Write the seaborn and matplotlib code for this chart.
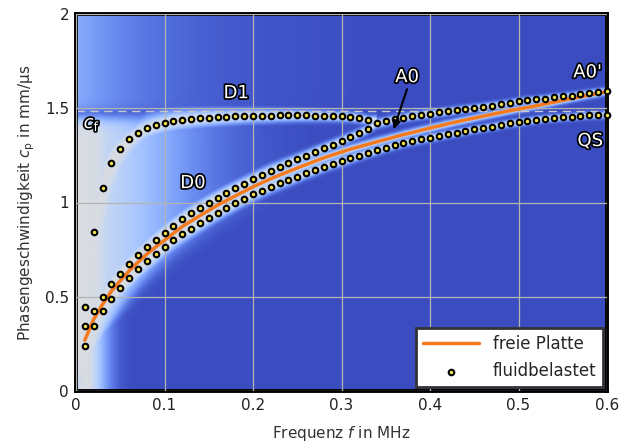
import numpy as np
import pandas as pd
import matplotlib
matplotlib.use("Agg")
import matplotlib.pyplot as plt
import matplotlib.patheffects as pe
import seaborn as sns

# Frequenzen der berechneten Punkte (MHz)
f_pts = [0.01, 0.02, 0.03, 0.04, 0.05, 0.06, 0.07, 0.08, 0.09, 0.10,
         0.11, 0.12, 0.13, 0.14, 0.15, 0.16, 0.17, 0.18, 0.19, 0.20,
         0.21, 0.22, 0.23, 0.24, 0.25, 0.26, 0.27, 0.28, 0.29, 0.30,
         0.31, 0.32, 0.33, 0.34, 0.35, 0.36, 0.37, 0.38, 0.39, 0.40,
         0.41, 0.42, 0.43, 0.44, 0.45, 0.46, 0.47, 0.48, 0.49, 0.50,
         0.51, 0.52, 0.53, 0.54, 0.55, 0.56, 0.57, 0.58, 0.59, 0.60]

# D1 (fluidbelastet), 0.01 ... 0.33 MHz
c_d1 = [0.447, 0.845, 1.075, 1.208, 1.285, 1.335, 1.370, 1.394, 1.410, 1.422,
        1.432, 1.438, 1.443, 1.447, 1.450, 1.453, 1.455, 1.457, 1.459, 1.460,
        1.460, 1.461, 1.462, 1.462, 1.462, 1.462, 1.461, 1.460, 1.459, 1.457,
        1.455, 1.448, 1.438]

# D0 oben -> A0'
c_a0s = [0.347, 0.424, 0.497, 0.566, 0.622, 0.674, 0.720, 0.762, 0.800, 0.840,
         0.875, 0.911, 0.943, 0.971, 0.999, 1.026, 1.052, 1.075, 1.100, 1.123,
         1.148, 1.169, 1.190, 1.209, 1.229, 1.248, 1.268, 1.287, 1.306, 1.326,
         1.346, 1.367, 1.390, 1.420, 1.430, 1.441, 1.450, 1.459, 1.464, 1.471,
         1.478, 1.483, 1.490, 1.496, 1.501, 1.508, 1.514, 1.520, 1.527, 1.536,
         1.543, 1.547, 1.551, 1.558, 1.563, 1.567, 1.574, 1.581, 1.588, 1.593]

# D0 unten -> QS
c_qs = [0.240, 0.343, 0.426, 0.490, 0.548, 0.600, 0.647, 0.690, 0.728, 0.766,
        0.803, 0.833, 0.861, 0.890, 0.919, 0.946, 0.971, 0.996, 1.020, 1.043,
        1.063, 1.084, 1.102, 1.119, 1.137, 1.156, 1.172, 1.190, 1.206, 1.218,
        1.234, 1.249, 1.263, 1.277, 1.291, 1.304, 1.317, 1.326, 1.335, 1.344,
        1.353, 1.362, 1.370, 1.379, 1.388, 1.395, 1.402, 1.411, 1.420, 1.425,
        1.432, 1.439, 1.445, 1.448, 1.452, 1.456, 1.459, 1.463, 1.464, 1.466]

# freie Platte (A0)
f_free = [0.01, 0.02, 0.03, 0.04, 0.05, 0.06, 0.07, 0.08, 0.09, 0.10, 0.12,
          0.14, 0.16, 0.18, 0.20, 0.22, 0.25, 0.28, 0.31, 0.34, 0.37, 0.40,
          0.43, 0.46, 0.49, 0.52, 0.55, 0.58, 0.60]
c_free = [0.270, 0.380, 0.460, 0.530, 0.585, 0.637, 0.683, 0.726, 0.764, 0.800,
          0.872, 0.930, 0.986, 1.035, 1.083, 1.126, 1.183, 1.237, 1.283, 1.322,
          1.360, 1.395, 1.428, 1.458, 1.487, 1.513, 1.542, 1.570, 1.588]

c_f = 1.484  # Schallgeschwindigkeit Fluid

sns.set_theme(style="white")
plt.rcParams["font.family"] = ["DejaVu Sans"]
plt.rcParams["mathtext.fontset"] = "dejavusans"

fig = plt.figure(figsize=(6.21, 4.43), dpi=100)
ax = fig.add_axes([76 / 621, 1 - 391 / 443, 531 / 621, 377 / 443])

# Hintergrund: Intensitaet um die Moden
fg = np.linspace(0, 0.6, 360)
cg = np.linspace(0, 2, 300)
F, C = np.meshgrid(fg, cg)
Z = np.zeros_like(F)
w = 0.016 + 0.1 * np.exp(-F / 0.12)
for ff, cc in [(f_pts[:len(c_d1)], c_d1), (f_pts, c_a0s), (f_pts, c_qs), (f_free, c_free)]:
    cb = np.interp(F, ff, cc)
    m = (F >= ff[0] - 0.02) & (F <= ff[-1] + 0.01)
    Z = np.where(m, np.maximum(Z, np.exp(-((C - cb) / w) ** 2)), Z)
# steiler Teil von D1: horizontaler Abstand
fd1 = np.interp(C, c_d1[:14], f_pts[:14])
hz = np.exp(-((F - fd1) / 0.025) ** 2) * (C < 1.45)
Z = np.maximum(Z, hz)
lo = np.interp(F, f_pts, c_qs) - 0.07 - 0.2 * np.exp(-F / 0.03)
reg = (1 / (1 + np.exp(-(C - lo) / 0.03))) * (1 / (1 + np.exp((C - 1.45) / 0.02)))
Z = np.maximum(Z, reg * np.exp(-(F / 0.052) ** 4))
Z = np.maximum(Z, 0.9 * reg * np.exp(-(F / 0.13) ** 2))
top = 1 / (1 + np.exp(-(C - 1.48) / 0.02))
Z = np.maximum(Z, 0.5 * top * np.exp(-F / 0.09))
ax.imshow(Z, extent=[0, 0.6, 0, 2], origin="lower", aspect="auto",
          cmap="coolwarm", vmin=0, vmax=2.06, interpolation="bilinear", zorder=0)

ax.axhline(c_f, color="#c8c8c8", lw=1, ls=(0, (6, 4)), zorder=1)

df_free = pd.DataFrame({"f": f_free, "c": c_free})
sns.lineplot(data=df_free, x="f", y="c", ax=ax, color="#f47a20", lw=2.5,
             label="freie Platte", zorder=3)

df_fl = pd.concat([
    pd.DataFrame({"f": f_pts[:len(c_d1)], "c": c_d1}),
    pd.DataFrame({"f": f_pts, "c": c_a0s}),
    pd.DataFrame({"f": f_pts, "c": c_qs}),
])
sns.scatterplot(data=df_fl, x="f", y="c", ax=ax, s=16, color="#f2e24a",
                edgecolor="black", linewidth=1.5, label="fluidbelastet",
                zorder=4, clip_on=False)

ax.set_xlim(0, 0.6)
ax.set_ylim(0, 2)
ax.set_xticks([0, 0.1, 0.2, 0.3, 0.4, 0.5, 0.6])
ax.set_xticklabels(["0", "0.1", "0.2", "0.3", "0.4", "0.5", "0.6"])
ax.set_yticks([0, 0.5, 1, 1.5, 2])
ax.set_yticklabels(["0", "0.5", "1", "1.5", "2"])
ax.tick_params(length=0, labelsize=11, colors="#222222", pad=5)
ax.grid(True, color="#b4b4b4", lw=0.9)
ax.set_axisbelow(False)
for sp in ax.spines.values():
    sp.set_visible(True)
    sp.set_color("black")
    sp.set_linewidth(2.8)

ax.set_xlabel(r"Frequenz $f$ in MHz", fontsize=11, color="#333333", labelpad=8)
ax.set_ylabel(r"Phasengeschwindigkeit $c_\mathrm{p}$ in mm/µs", fontsize=11,
              color="#333333", labelpad=6)

halo = [pe.withStroke(linewidth=2.5, foreground="black")]
for txt, x, y in [("D1", 0.181, 1.58), ("D0", 0.132, 1.103), ("A0", 0.374, 1.665),
                  ("A0'", 0.578, 1.69), ("QS", 0.581, 1.326),
                  (r"$c_\mathrm{f}$", 0.018, 1.416)]:
    ax.text(x, y, txt, color="white", fontsize=13, ha="center", va="center",
            path_effects=halo, zorder=5)

ax.annotate("", xy=(0.358, 1.375), xytext=(0.375, 1.615),
            arrowprops=dict(arrowstyle="-|>", color="black", lw=1.5,
                            mutation_scale=12), zorder=5)

leg = ax.legend(loc="lower right", fontsize=12, frameon=True, fancybox=False,
                framealpha=1, borderaxespad=0.25, handlelength=3.4,
                labelspacing=0.55, markerscale=1.0)
leg.get_frame().set_edgecolor("#333333")
leg.get_frame().set_linewidth(2)
leg.set_zorder(6)

plt.savefig("out.png", dpi=100)
plt.close()
